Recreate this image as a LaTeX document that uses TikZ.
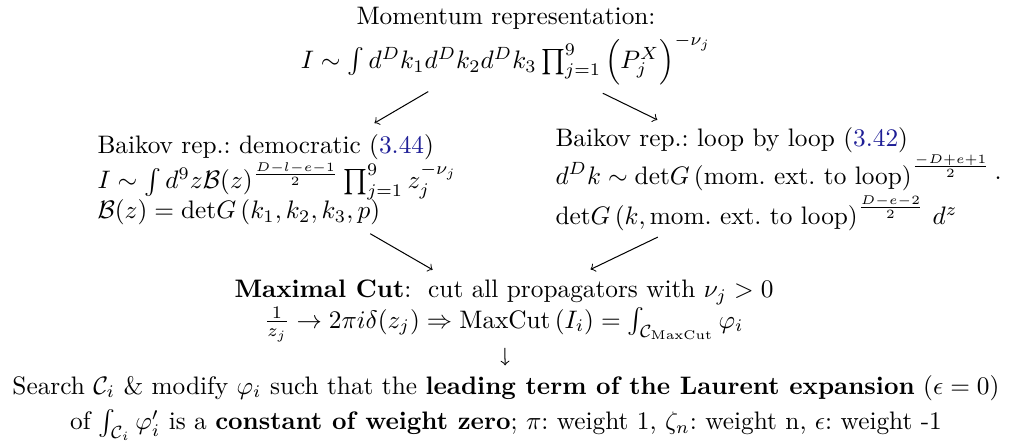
\documentclass[tikz,border=0pt]{standalone}
\usepackage{amsmath,amssymb}
\usetikzlibrary{calc}
\definecolor{linkblue}{RGB}{30,30,150}
\begin{document}
\frenchspacing
\begin{tikzpicture}[x=0.3953pt,y=-0.3953pt,
  txt/.style={inner sep=0pt,font=\normalsize},
  conn/.style={->,line width=0.4pt}]
\useasboundingbox (0,0) rectangle (1012,442);
\node[txt,align=center] (mom) at (506,46) {Momentum representation:\\[1pt]
  $I\sim\int d^Dk_1d^Dk_2d^Dk_3\prod_{j=1}^9\Big(P_j^X\Big)^{-\nu_j}$};
\node[txt,align=left,anchor=west] (dem) at (97,180) {Baikov rep.: democratic (\textcolor{linkblue}{3.44})\\
  $I\sim\int d^9z\mathcal{B}(z)^{\frac{D-l-e-1}{2}}\prod_{j=1}^9 z_j^{-\nu_j}$\\
  $\mathcal{B}(z)=\mathrm{det}G\left(k_1,k_2,k_3,p\right)$};
\node[txt,align=left,anchor=west] (loop) at (555,179) {Baikov rep.: loop by loop (\textcolor{linkblue}{3.42})\\
  $d^Dk\sim\mathrm{det}G\left(\text{mom. ext. to loop}\right)^{\frac{-D+e+1}{2}}\cdot$\\[1pt]
  $\mathrm{det}G\left(k,\text{mom. ext. to loop}\right)^{\frac{D-e-2}{2}}\,d^z$};
\node[txt,align=center] (max) at (504,311) {\textbf{Maximal Cut}:\ \ cut all propagators with $\nu_j>0$\\
  $\frac{1}{z_j}\to2\pi i\delta(z_j)\Rightarrow\mathrm{MaxCut}\left(I_i\right)=\int_{\mathcal{C}_\mathrm{MaxCut}}\varphi_i$};
\node[txt,align=center] (bot) at (506,408) {Search $\mathcal{C}_i$ \& modify $\varphi_i$ such that the \textbf{leading term of the Laurent expansion} $(\epsilon=0)$\\[2pt]
  of $\int_{\mathcal{C}_i}\varphi_i'$ is a \textbf{constant of weight zero}; $\pi$: weight 1, $\zeta_n$: weight n, $\epsilon$: weight -1};
\draw[conn] ($(mom)!0.34!(dem)$) -- ($(mom)!0.575!(dem)$);
\draw[conn] ($(mom)!0.355!(loop)$) -- ($(mom)!0.555!(loop)$);
\draw[conn] ($(dem)!0.41!(max)$) -- ($(dem)!0.685!(max)$);
\draw[conn] ($(loop)!0.44!(max)$) -- ($(loop)!0.685!(max)$);
\draw[conn] ($(max)!0.38!(bot)$) -- ($(max)!0.56!(bot)$);
\end{tikzpicture}
\end{document}
